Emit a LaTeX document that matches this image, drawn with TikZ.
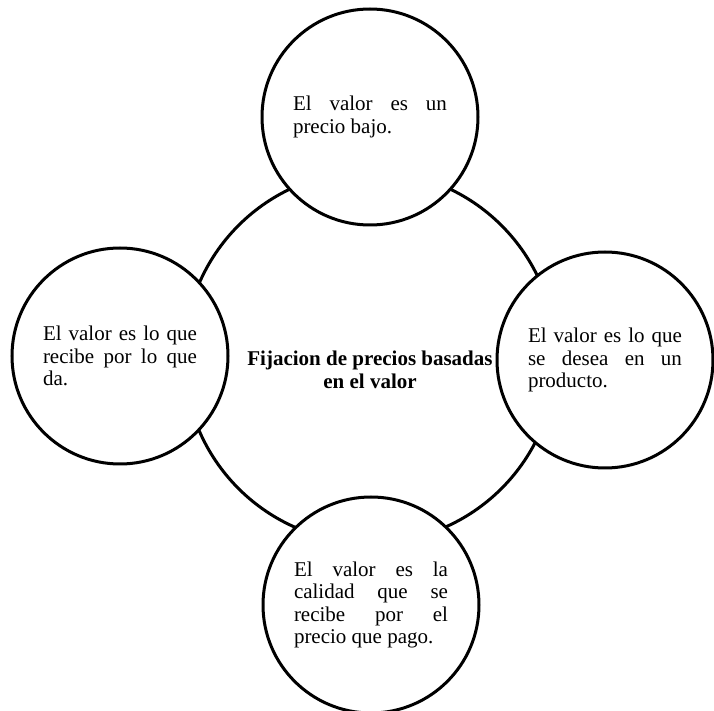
\documentclass[tikz,border=0pt]{standalone}
\usepackage{fontspec}
\setmainfont{Liberation Serif}
\usepackage{tikz}
\usetikzlibrary{positioning}
\newcommand{\petalfont}{\fontsize{10.5}{11.2}\selectfont\hyphenpenalty=10000\relax}

\begin{document}
\begin{tikzpicture}[
    x=0.5pt, y=-0.5pt,
    hub/.style={
        circle, draw, line width=1.5pt,
        minimum size=186pt
    },
    title/.style={
        align=center,
        font=\fontsize{10.5}{11.5}\selectfont\bfseries
    },
    petal/.style={
        circle, draw, line width=1.5pt, fill=white,
        minimum size=108pt, inner sep=0pt,
        text width=77pt, align=justify,
        font=\petalfont
    }
]
\useasboundingbox (0,0) rectangle (714,711);
\node[hub] (hub) at (370,357) {};
\node[title] (name) at (370,370)
    {Fijacion de precios basadas\\en el valor};
\node[petal] (top) at (370,117)
    {El valor es un\linebreak precio bajo.};
\node[petal] (left) at (120,356)
    {El valor es lo que\linebreak recibe por lo que\linebreak da.};
\node[petal] (right) at (605,360)
    {El valor es lo que\linebreak se desea en un\linebreak producto.};
\node[petal] (bottom) at (371,605)
    {El valor es la\linebreak calidad que se\linebreak recibe por el\linebreak precio que pago.};
\end{tikzpicture}
\end{document}
